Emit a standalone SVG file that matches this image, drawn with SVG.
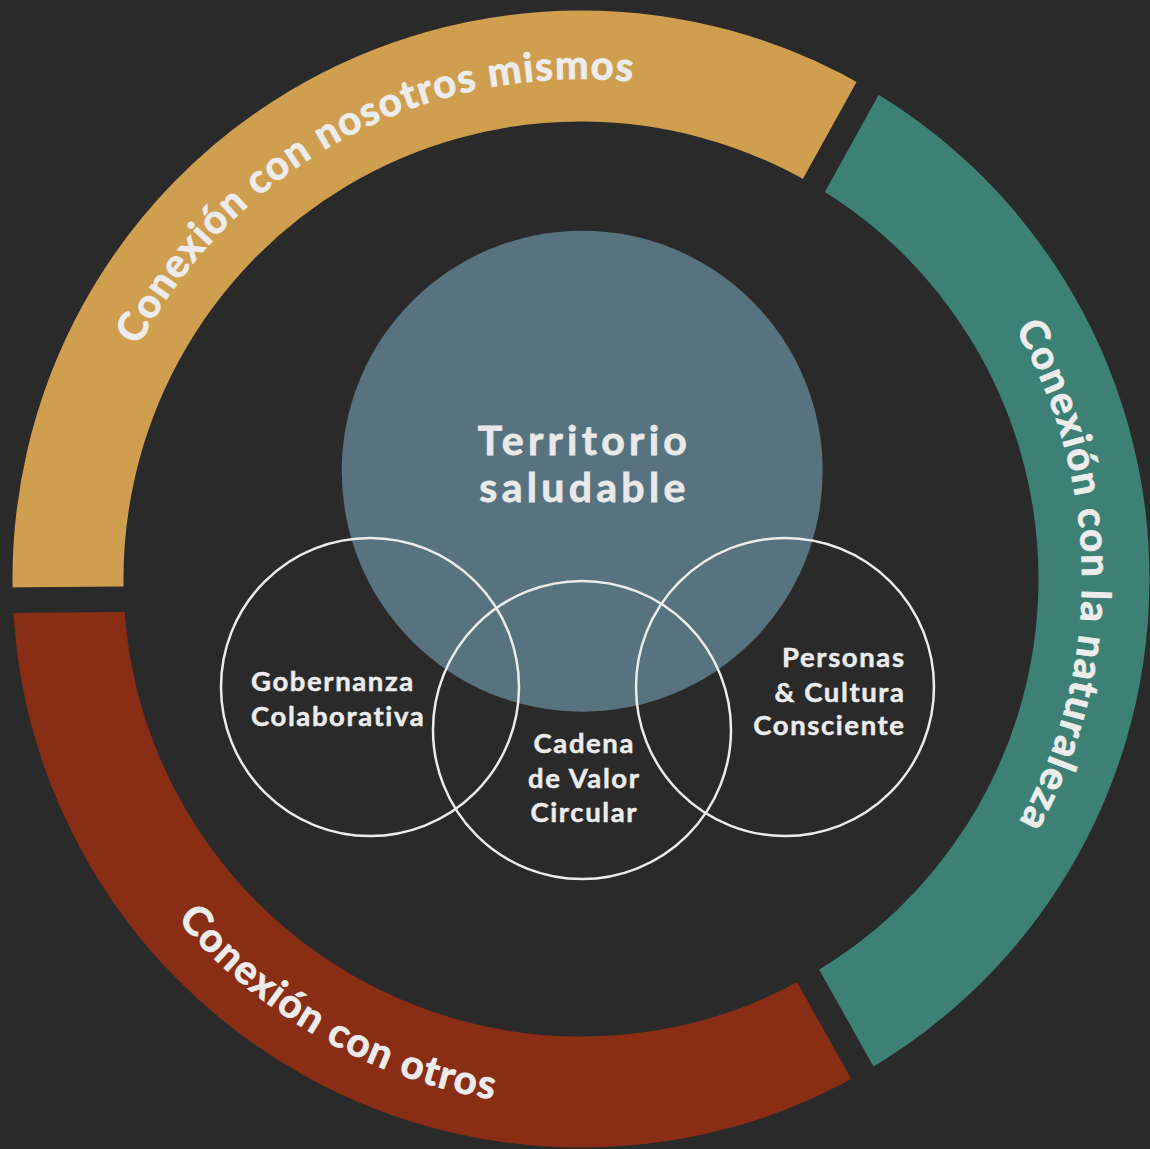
<svg xmlns="http://www.w3.org/2000/svg" width="1150" height="1149" viewBox="0 0 1150 1149">
<defs>
<style>
.seg{fill:none;stroke-width:111}
.gap{stroke:#2a2a2a;stroke-width:25.5;fill:none}
.ring{font-family:Lato,"Liberation Sans",sans-serif;font-weight:700;font-size:40px;fill:#ececec;stroke:#ececec;stroke-width:0.9px;letter-spacing:1.5px}
.core{font-family:Lato,"Liberation Sans",sans-serif;font-weight:700;font-size:41px;fill:#e9e9e9;stroke:#e9e9e9;stroke-width:0.8px;letter-spacing:4.3px;text-anchor:middle}
.lbl{font-family:Lato,"Liberation Sans",sans-serif;font-weight:700;font-size:27.5px;fill:#ececec;stroke:#ececec;stroke-width:0.5px;letter-spacing:1.6px}
.sc{fill:none;stroke:#ececec;stroke-width:2.5}
</style>
<path id="pGold" d="M121.09 775.17 A500 500 0 0 1 999.86 305.95"/>
<path id="pTeal" d="M621.18 79.61 A501 501 0 0 1 628.15 1077.78"/>
<path id="pRust" d="M101.12 358.81 A528 528 0 0 0 1015.35 879.20"/>
</defs>
<rect width="1150" height="1149" fill="#2a2a2a"/>
<g id="ring">
<g id="seg-nosotros">
<path class="seg" stroke="#cf9e4f" d="M68.31 596.90 A513 513 0 0 1 840.59 136.53"/>
</g>
<g id="seg-naturaleza">
<path class="seg" stroke="#3d8075" d="M840.59 136.53 A513 513 0 0 1 835.17 1024.61"/>
</g>
<g id="seg-otros">
<path class="seg" stroke="#892d14" d="M835.17 1024.61 A513 513 0 0 1 68.31 596.90"/>
</g>
<g id="gaps">
<line class="gap" x1="0" y1="600.2" x2="150" y2="598.9"/>
<line class="gap" x1="806.5" y1="198.7" x2="879.2" y2="67.5"/>
<line class="gap" x1="798.2" y1="958.2" x2="871.5" y2="1089"/>
</g>
<text class="ring"><textPath href="#pGold" startOffset="50%" text-anchor="middle">Conexión con nosotros mismos</textPath></text>
<text class="ring"><textPath href="#pTeal" startOffset="50%" text-anchor="middle">Conexión con la naturaleza</textPath></text>
<text class="ring"><textPath href="#pRust" startOffset="50%" text-anchor="middle">Conexión con otros</textPath></text>
</g>
<g id="territorio">
<circle cx="582.2" cy="471.2" r="240.5" fill="#57737f"/>
<text class="core" x="584.5" y="455">Territorio</text>
<text class="core" x="584.5" y="502">saludable</text>
</g>
<g id="gobernanza">
<circle class="sc" cx="370" cy="687" r="149"/>
<text class="lbl" x="251" y="691">Gobernanza</text>
<text class="lbl" x="251" y="726">Colaborativa</text>
</g>
<g id="cadena">
<circle class="sc" cx="582" cy="730" r="149"/>
<text class="lbl" x="584.3" y="753.3" text-anchor="middle">Cadena</text>
<text class="lbl" x="584.3" y="788.3" text-anchor="middle">de Valor</text>
<text class="lbl" x="584.3" y="821.7" text-anchor="middle">Circular</text>
</g>
<g id="personas">
<circle class="sc" cx="785" cy="687" r="149"/>
<text class="lbl" x="905.6" y="667" text-anchor="end">Personas</text>
<text class="lbl" x="905.6" y="701.5" text-anchor="end">&amp; Cultura</text>
<text class="lbl" x="905.6" y="735" text-anchor="end">Consciente</text>
</g>
</svg>
